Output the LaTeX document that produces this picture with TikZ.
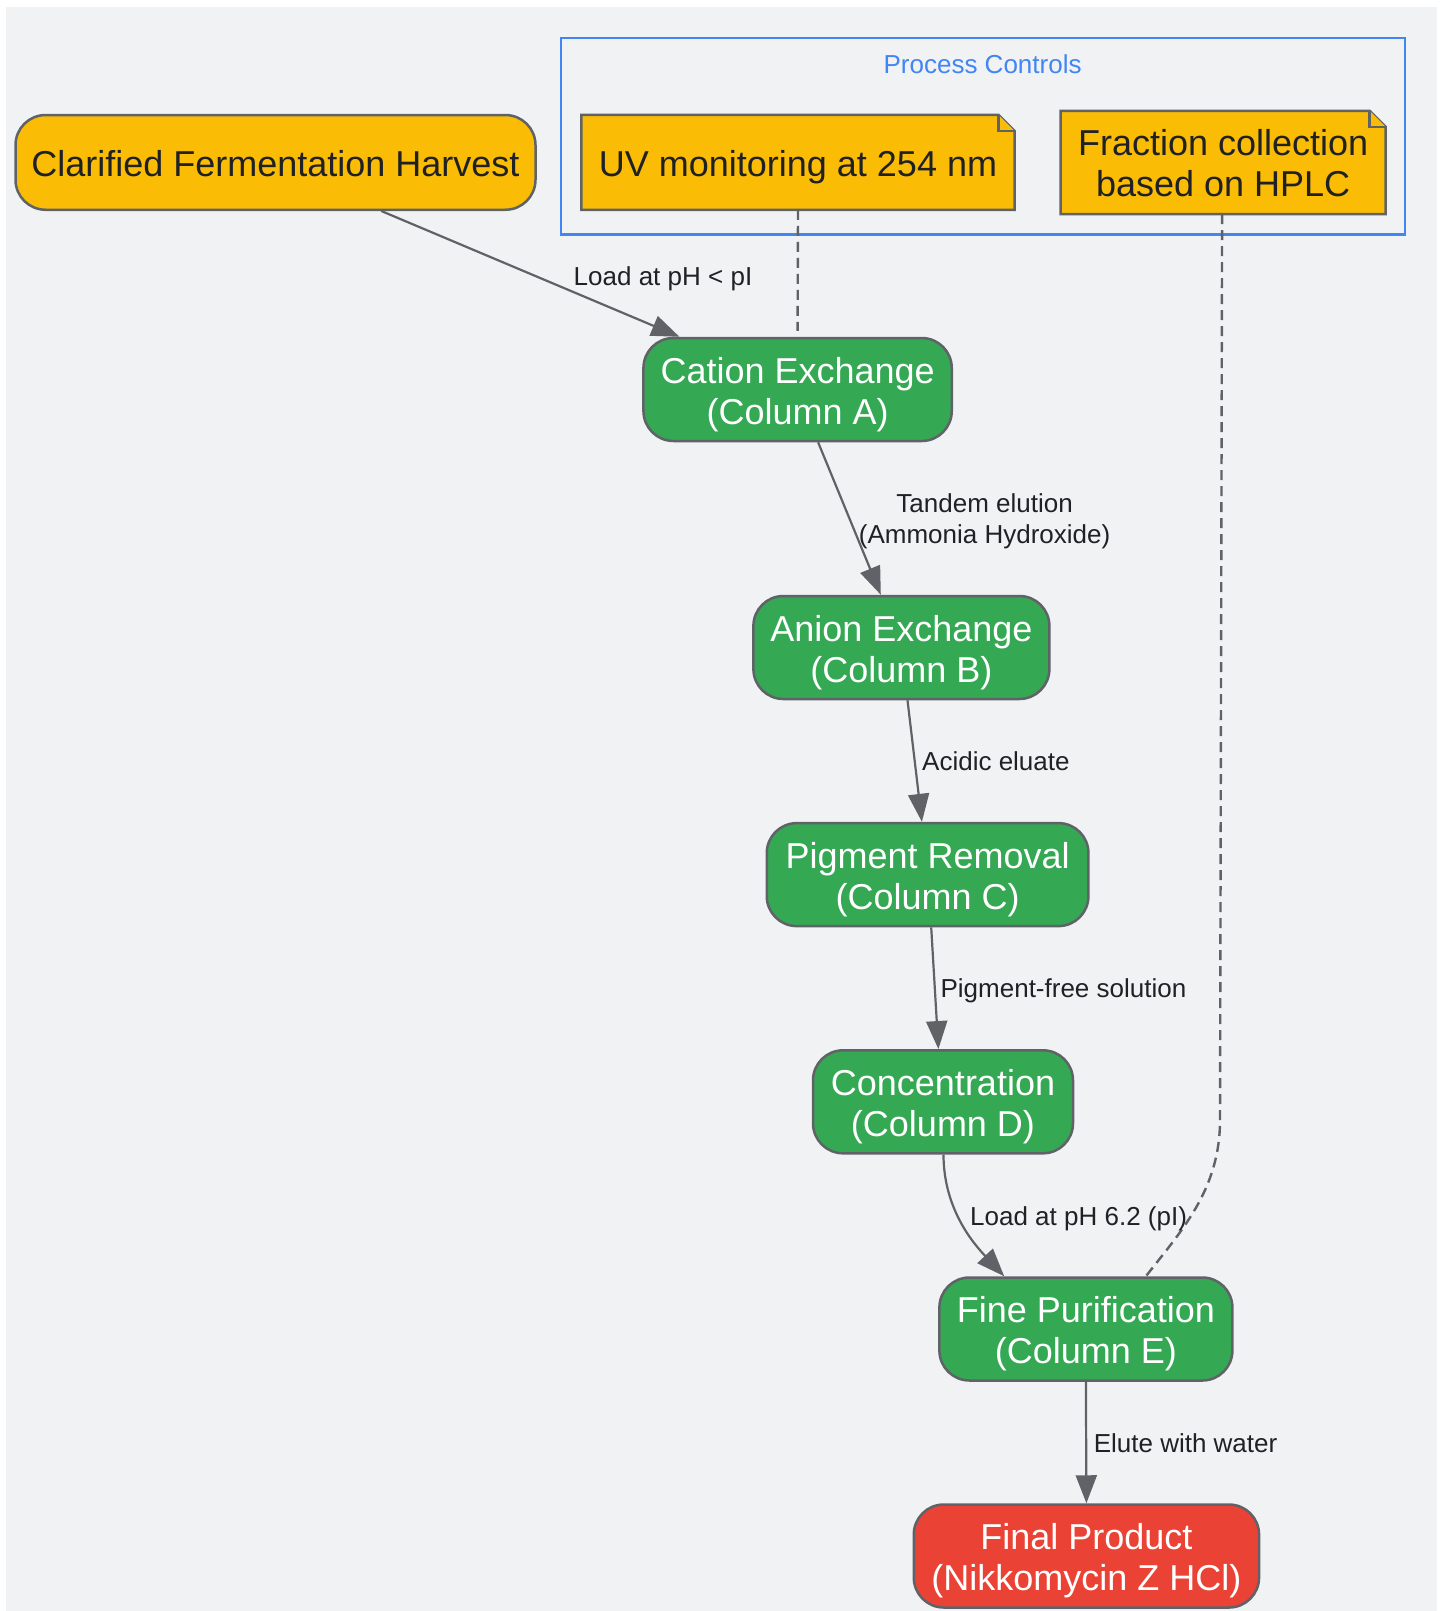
\documentclass[tikz,border=0pt]{standalone}
\usepackage{fontspec}
\setmainfont{Liberation Sans}
\usetikzlibrary{arrows.meta,calc,backgrounds}
\definecolor{bgc}{HTML}{F1F2F4}
\definecolor{ylw}{HTML}{FBBC05}
\definecolor{grn}{HTML}{34A853}
\definecolor{rd}{HTML}{EA4335}
\definecolor{strk}{HTML}{5F6368}
\definecolor{txt}{HTML}{202124}
\definecolor{blu}{HTML}{4285F4}
\newcommand{\boxtext}[1]{\raisebox{-5.8pt}[\height][\depth]{\begin{tabular}{@{}c@{}}#1\end{tabular}}}
\begin{document}
\begin{tikzpicture}[x=1pt,y=-1pt,
  basebox/.style={draw=strk, line width=2.5pt, inner sep=0pt, align=center,
    font=\fontsize{36}{41}\selectfont, minimum height=103pt},
  procbox/.style={basebox, rounded corners=30pt, fill=grn, text=white},
  startbox/.style={basebox, rounded corners=30pt, fill=ylw, text=txt, minimum height=94.7pt},
  endbox/.style={basebox, rounded corners=30pt, fill=rd, text=white},
  notebox/.style={draw=none, inner sep=0pt, align=center, text=txt,
    font=\fontsize{36}{41}\selectfont},
  noteshape/.style={fill=ylw, draw=strk, line width=2.5pt, line join=miter},
  elabel/.style={inner sep=0pt, align=center, text=txt, font=\fontsize{26}{31}\selectfont},
  flow/.style={draw=strk, line width=2.2pt, -{Triangle[length=28pt,width=21pt]}},
  ctrl/.style={draw=strk, line width=2.4pt, dash pattern=on 10pt off 6pt}
]
\useasboundingbox (0,0) rectangle (1443,1611);

% group box
\node[draw=blu, line width=2.5pt, minimum width=843.8pt, minimum height=196.3pt, inner sep=0pt]
  (grp) at (983.1,136.2) {};
\node[text=blu, inner sep=0pt, font=\fontsize{26}{31}\selectfont] (grptitle) at (982.6,64.7) {Process Controls};

% nodes
\node[startbox, minimum width=520pt] (harv) at (275.5,162.4) {\boxtext{Clarified Fermentation Harvest}};
\node[notebox, minimum width=432.7pt, minimum height=94.6pt] (uv) at (798,162.4) {\boxtext{UV monitoring at 254 nm}};
\node[notebox, minimum width=324.8pt, minimum height=102.8pt] (frac) at (1223.1,162.4) {\boxtext{Fraction collection\\based on HPLC}};

\node[procbox, minimum width=308.3pt] (cat) at (797.6,389.5) {\boxtext{Cation Exchange\\(Column A)}};
\node[procbox, minimum width=296pt] (ani) at (901.4,647.5) {\boxtext{Anion Exchange\\(Column B)}};
\node[procbox, minimum width=321.7pt] (pig) at (927.6,874.6) {\boxtext{Pigment Removal\\(Column C)}};
\node[procbox, minimum width=260pt] (conc) at (943,1101.8) {\boxtext{Concentration\\(Column D)}};
\node[procbox, minimum width=293pt] (fine) at (1085.9,1329) {\boxtext{Fine Purification\\(Column E)}};
\node[endbox, minimum width=345.3pt] (fin) at (1086.4,1556) {\boxtext{Final Product\\(Nikkomycin Z HCl)}};

% background and note shapes
\begin{scope}[on background layer]
  \fill[white] (0,0) rectangle (1443,1611);
  \fill[bgc] (6,7) rectangle (1437,1611);
  \foreach \n in {uv,frac}{
    \draw[noteshape] (\n.south west) -- (\n.north west) -- ($(\n.north east)+(-16pt,0pt)$)
      -- ($(\n.north east)+(0pt,-16pt)$) -- (\n.south east) -- cycle;
    \draw[noteshape] ($(\n.north east)+(-16pt,0pt)$) -- ($(\n.north east)+(-16pt,-16pt)$)
      -- ($(\n.north east)+(0pt,-16pt)$);
  }
\end{scope}

% connectors
\draw[flow] ($(harv.south)+(105.8pt,0pt)$) -- ($(cat.north)+(-118.2pt,0pt)$);
\draw[ctrl] (uv.south) -- ($(cat.north)+(0pt,6pt)$);
\draw[flow] ($(cat.south)+(20.5pt,0pt)$) -- ($(ani.north)+(-20.6pt,0pt)$);
\draw[flow] ($(ani.south)+(6.1pt,0pt)$) -- ($(pig.north)+(-5.7pt,0pt)$);
\draw[flow] ($(pig.south)+(3.6pt,0pt)$) -- ($(conc.north)+(-4.6pt,0pt)$);
\draw[flow] ($(conc.south)+(0.5pt,0pt)$) .. controls +(0,55) and +(-30,-32) .. ($(fine.north)+(-81.7pt,0pt)$);
\coordinate (bend) at (1220,1120);
\draw[ctrl] ($(frac.south)+(-1pt,0pt)$) -- (bend) .. controls +(0,70) and +(35,-45) .. ($(fine.north)+(60pt,0pt)$);
\draw[flow] (fine.south) -- (fin.north);

% edge labels
\node[elabel] (l1) at (663,278.5) {Load at pH < pI};
\node[elabel] (l2) at (984.6,521) {Tandem elution\\(Ammonia Hydroxide)};
\node[elabel, anchor=west] (l3) at (922,761.6) {Acidic eluate};
\node[elabel, anchor=west] (l4) at (940.4,990.7) {Pigment-free solution};
\node[elabel, anchor=west] (l5) at (970,1219) {Load at pH 6.2 (pI)};
\node[elabel, anchor=west] (l6) at (1093.6,1443) {Elute with water};
\end{tikzpicture}
\end{document}
